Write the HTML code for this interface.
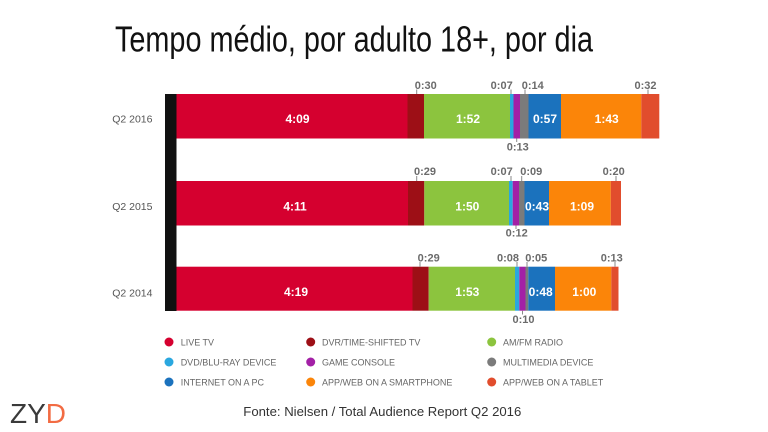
<!DOCTYPE html>
<html><head><meta charset="utf-8"><style>
html,body{margin:0;padding:0;background:#fff;}
svg{display:block;}
text{font-family:"Liberation Sans",sans-serif;}
</style></head><body>
<svg width="768" height="432" viewBox="0 0 768 432" xmlns="http://www.w3.org/2000/svg">
<rect width="768" height="432" fill="#fff"/>
<text x="115" y="51.5" font-size="36" fill="#111" textLength="478" lengthAdjust="spacingAndGlyphs">Tempo médio, por adulto 18+, por dia</text>

<g font-size="10.5" fill="#555" text-anchor="end">
<text x="152.5" y="122.5">Q2 2016</text>
<text x="152.5" y="210">Q2 2015</text>
<text x="152.5" y="296.5">Q2 2014</text>
</g>

<rect x="165" y="94" width="11.5" height="217" fill="#111"/>

<!-- Bar 1 -->
<g>
<rect x="176.5" y="94" width="231" height="44.5" fill="#d5002f"/>
<rect x="407.5" y="94" width="16.5" height="44.5" fill="#9d0f16"/>
<rect x="424" y="94" width="86" height="44.5" fill="#8cc43e"/>
<rect x="510" y="94" width="3.5" height="44.5" fill="#2aa7df"/>
<rect x="513.5" y="94" width="6.5" height="44.5" fill="#a320a6"/>
<rect x="520" y="94" width="8.5" height="44.5" fill="#7b7b7b"/>
<rect x="528.5" y="94" width="32.5" height="44.5" fill="#1b72bd"/>
<rect x="561" y="94" width="80.3" height="44.5" fill="#fb8509"/>
<rect x="641.3" y="94" width="18" height="44.5" fill="#e14d2d"/>
</g>
<!-- Bar 2 -->
<g>
<rect x="176.5" y="181" width="231.5" height="44.5" fill="#d5002f"/>
<rect x="408" y="181" width="16.3" height="44.5" fill="#9d0f16"/>
<rect x="424.3" y="181" width="84.7" height="44.5" fill="#8cc43e"/>
<rect x="509" y="181" width="3.7" height="44.5" fill="#2aa7df"/>
<rect x="512.7" y="181" width="6.3" height="44.5" fill="#a320a6"/>
<rect x="519" y="181" width="5.5" height="44.5" fill="#7b7b7b"/>
<rect x="524.5" y="181" width="24.5" height="44.5" fill="#1b72bd"/>
<rect x="549" y="181" width="61.8" height="44.5" fill="#fb8509"/>
<rect x="610.8" y="181" width="10.2" height="44.5" fill="#e14d2d"/>
</g>
<!-- Bar 3 -->
<g>
<rect x="176.5" y="266.7" width="236" height="44" fill="#d5002f"/>
<rect x="412.5" y="266.7" width="16.2" height="44" fill="#9d0f16"/>
<rect x="428.7" y="266.7" width="86.3" height="44" fill="#8cc43e"/>
<rect x="515" y="266.7" width="4.3" height="44" fill="#2aa7df"/>
<rect x="519.3" y="266.7" width="6.2" height="44" fill="#a320a6"/>
<rect x="525.5" y="266.7" width="2.8" height="44" fill="#7b7b7b"/>
<rect x="528.3" y="266.7" width="26.7" height="44" fill="#1b72bd"/>
<rect x="555" y="266.7" width="56.3" height="44" fill="#fb8509"/>
<rect x="611.3" y="266.7" width="7.2" height="44" fill="#e14d2d"/>
</g>

<!-- inside labels -->
<g font-size="12" font-weight="bold" fill="#fff" text-anchor="middle">
<text x="297.5" y="122.8">4:09</text>
<text x="468" y="122.8">1:52</text>
<text x="545" y="122.8">0:57</text>
<text x="606.7" y="122.8">1:43</text>
<text x="295" y="210.3">4:11</text>
<text x="467.3" y="210.3">1:50</text>
<text x="537" y="210.3">0:43</text>
<text x="582" y="210.3">1:09</text>
<text x="296" y="296">4:19</text>
<text x="467.3" y="296">1:53</text>
<text x="540.7" y="296">0:48</text>
<text x="584.3" y="296">1:00</text>
</g>

<!-- outside labels -->
<g font-size="11" font-weight="bold" fill="#6b6b6b" text-anchor="middle">
<text x="425.8" y="89">0:30</text>
<text x="501.7" y="89">0:07</text>
<text x="532.8" y="89">0:14</text>
<text x="645.5" y="89">0:32</text>
<text x="517.8" y="150.7">0:13</text>
<text x="425" y="175">0:29</text>
<text x="501.7" y="175">0:07</text>
<text x="531.3" y="175">0:09</text>
<text x="613.7" y="175">0:20</text>
<text x="516.7" y="236.7">0:12</text>
<text x="428.7" y="261.3">0:29</text>
<text x="508" y="261.3">0:08</text>
<text x="536.3" y="261.3">0:05</text>
<text x="611.8" y="261.3">0:13</text>
<text x="523.5" y="323">0:10</text>
</g>
<g stroke="#8a8a8a" stroke-width="1">
<line x1="416.7" y1="89.5" x2="416.7" y2="94"/>
<line x1="511" y1="89.5" x2="511" y2="94"/>
<line x1="525" y1="89.5" x2="525" y2="94"/>
<line x1="648" y1="89.5" x2="648" y2="94"/>
<line x1="516.7" y1="138.5" x2="516.7" y2="142"/>
<line x1="416.7" y1="176" x2="416.7" y2="181"/>
<line x1="511" y1="176" x2="511" y2="181"/>
<line x1="521.7" y1="176" x2="521.7" y2="181"/>
<line x1="616" y1="176" x2="616" y2="181"/>
<line x1="516" y1="225.5" x2="516" y2="229"/>
<line x1="420" y1="262" x2="420" y2="266.7"/>
<line x1="517" y1="262" x2="517" y2="266.7"/>
<line x1="527" y1="262" x2="527" y2="266.7"/>
<line x1="615" y1="262" x2="615" y2="266.7"/>
<line x1="522.5" y1="310.7" x2="522.5" y2="314.5"/>
</g>

<!-- legend -->
<g>
<circle cx="169" cy="342" r="4.5" fill="#d5002f"/>
<circle cx="310.7" cy="342" r="4.5" fill="#9d0f16"/>
<circle cx="491.7" cy="342" r="4.5" fill="#8cc43e"/>
<circle cx="169" cy="362" r="4.5" fill="#2aa7df"/>
<circle cx="310.7" cy="362" r="4.5" fill="#a320a6"/>
<circle cx="491.7" cy="362" r="4.5" fill="#7b7b7b"/>
<circle cx="169" cy="382" r="4.5" fill="#1b72bd"/>
<circle cx="310.7" cy="382" r="4.5" fill="#fb8509"/>
<circle cx="491.7" cy="382" r="4.5" fill="#e14d2d"/>
</g>
<g font-size="9" fill="#666">
<text x="180.7" y="345.3">LIVE TV</text>
<text x="322" y="345.3">DVR/TIME-SHIFTED TV</text>
<text x="503" y="345.3">AM/FM RADIO</text>
<text x="180.7" y="365.3">DVD/BLU-RAY DEVICE</text>
<text x="322" y="365.3">GAME CONSOLE</text>
<text x="503" y="365.3">MULTIMEDIA DEVICE</text>
<text x="180.7" y="385.3">INTERNET ON A PC</text>
<text x="322" y="385.3">APP/WEB ON A SMARTPHONE</text>
<text x="503" y="385.3">APP/WEB ON A TABLET</text>
</g>

<text x="243.3" y="416" font-size="13" fill="#333" textLength="278" lengthAdjust="spacingAndGlyphs">Fonte: Nielsen / Total Audience Report Q2 2016</text>

<text x="10" y="423" font-size="28" fill="#3a3a3a">ZY<tspan fill="#f26b43">D</tspan></text>
</svg>
</body></html>
